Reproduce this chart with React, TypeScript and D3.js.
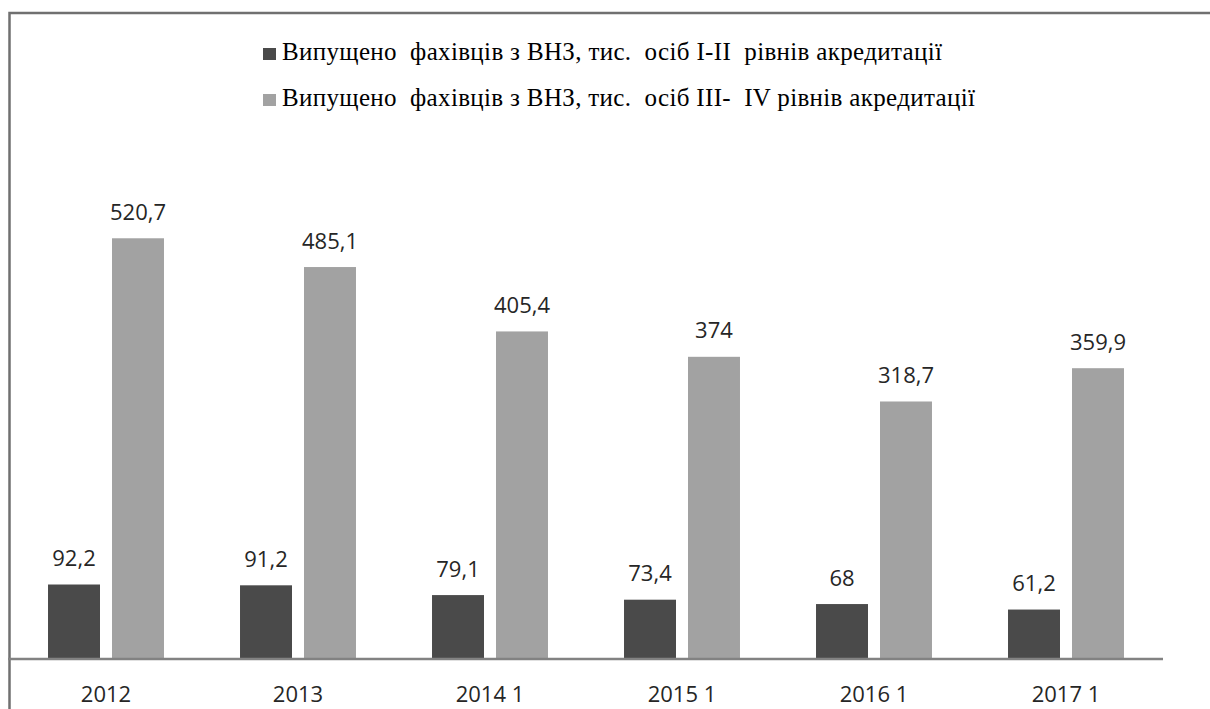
import React from "react";
import { scaleBand, scaleLinear } from "d3";

// years on the x axis (as printed in the source)
const categories = ["2012", "2013", "2014 1", "2015 1", "2016 1", "2017 1"];
const seriesNames = [
  "Випущено\u00A0 фахівців з ВНЗ, тис.\u00A0 осіб І-ІІ\u00A0 рівнів акредитації",
  "Випущено\u00A0 фахівців з ВНЗ, тис.\u00A0 осіб ІІІ-\u00A0 ІV рівнів акредитації",
];
const levelsI_II = [92.2, 91.2, 79.1, 73.4, 68, 61.2];
const levelsIII_IV = [520.7, 485.1, 405.4, 374, 318.7, 359.9];
const labelsI_II = ["92,2", "91,2", "79,1", "73,4", "68", "61,2"];
const labelsIII_IV = ["520,7", "485,1", "405,4", "374", "318,7", "359,9"];
const legendWidths = [660, 693];

const W = 1210;
const H = 709;
const colors = ["#4a4a4a", "#a2a2a2"];

const App = () => {
  const baseY = 659;

  const x0 = scaleBand()
    .domain(categories)
    .range([10, 1162])
    .paddingInner(0.396)
    .paddingOuter(0.198);

  const x1 = scaleBand()
    .domain(["0", "1"])
    .range([0, x0.bandwidth()])
    .paddingInner(0.1875);

  const y = scaleLinear().domain([0, 600]).range([baseY, baseY - 600 * 0.808]);

  const series = [
    { values: levelsI_II, labels: labelsI_II },
    { values: levelsIII_IV, labels: labelsIII_IV },
  ];

  return (
    <svg
      width={W}
      height={H}
      style={{ position: "absolute", left: 0, top: 0, background: "#fff" }}
    >
      {/* outer frame, only top and left edges are visible */}
      <path d={`M9.5,${H} L9.5,13 L${W},13`} fill="none" stroke="#707070" strokeWidth={2.5} />

      {/* legend */}
      {seriesNames.map((name, i) => (
        <g key={name} transform={`translate(263, ${48 + i * 46})`}>
          <rect width={13} height={12} fill={colors[i]} />
          <text
            x={19}
            y={12}
            fontFamily="Liberation Serif"
            fontSize={25}
            fill="#000"
            textLength={legendWidths[i]}
            lengthAdjust="spacing"
          >
            {name}
          </text>
        </g>
      ))}

      {/* bars */}
      {categories.map((cat, ci) => (
        <g key={cat} transform={`translate(${x0(cat)}, 0)`}>
          {series.map((s, si) => {
            const bx = x1(String(si)) as number;
            const by = y(s.values[ci]);
            return (
              <g key={si}>
                <rect
                  x={bx}
                  y={by}
                  width={x1.bandwidth()}
                  height={baseY - by}
                  fill={colors[si]}
                />
                <text
                  x={bx + x1.bandwidth() / 2}
                  y={by - 18.5}
                  textAnchor="middle"
                  fontFamily="Open Sans"
                  fontSize={22}
                  fill="#262626"
                >
                  {s.labels[ci]}
                </text>
              </g>
            );
          })}
        </g>
      ))}

      {/* x axis */}
      <line x1={8} x2={1163} y1={baseY} y2={baseY} stroke="#828282" strokeWidth={2.4} />
      {categories.map((cat) => (
        <text
          key={cat}
          x={(x0(cat) as number) + x0.bandwidth() / 2}
          y={702}
          textAnchor="middle"
          fontFamily="Open Sans"
          fontSize={22}
          fill="#262626"
        >
          {cat}
        </text>
      ))}
    </svg>
  );
};

export default App;
